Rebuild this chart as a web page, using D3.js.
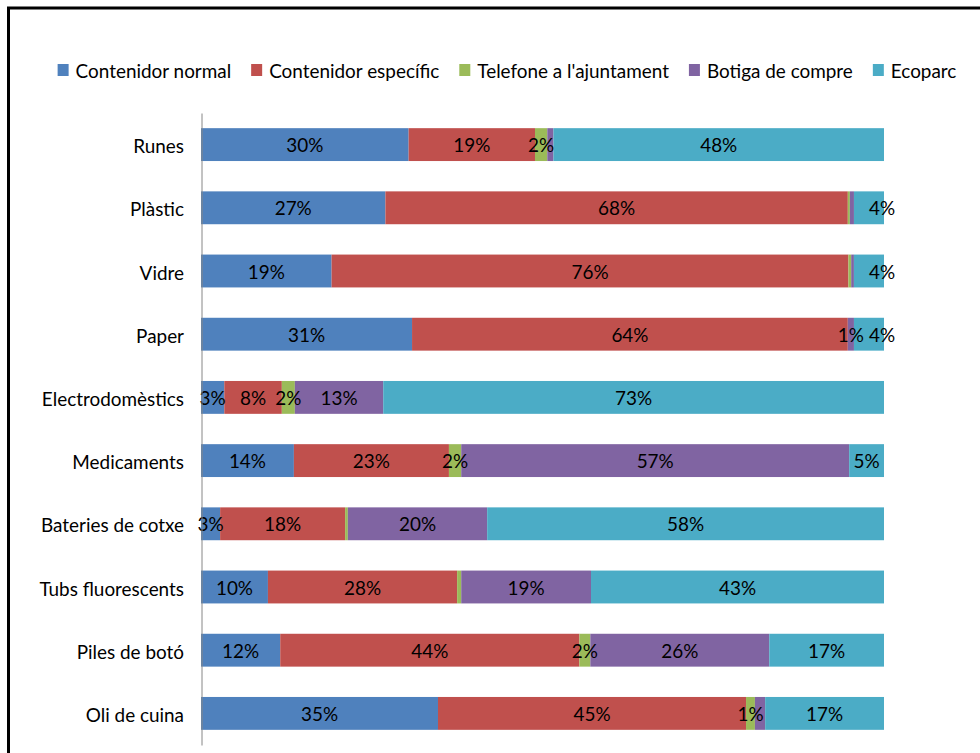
<!DOCTYPE html>
<html>
<head>
<meta charset="utf-8">
<script src="https://cdn.jsdelivr.net/npm/d3@7/dist/d3.min.js"></script>
<style>
  html, body { margin: 0; padding: 0; background: #fff; overflow: hidden; }
  svg { display: block; }
</style>
</head>
<body>
<svg id="chart" width="980" height="753"></svg>
<script>
// ---- Data ----
const categories = ["Runes", "Plàstic", "Vidre", "Paper", "Electrodomèstics",
  "Medicaments", "Bateries de cotxe", "Tubs fluorescents", "Piles de botó", "Oli de cuina"];
const seriesNames = ["Contenidor normal", "Contenidor específic", "Telefone a l'ajuntament",
  "Botiga de compre", "Ecoparc"];
const contenidorNormal    = [30.4, 27.0, 19.1, 30.9, 3.4, 13.6, 2.8, 9.8, 11.6, 34.7];
const contenidorEspecific = [18.5, 67.7, 75.6, 63.8, 8.4, 22.7, 18.3, 27.7, 43.8, 45.1];
const telefoneAjuntament  = [1.8, 0.3, 0.4, 0.0, 1.9, 1.8, 0.4, 0.6, 1.6, 1.3];
const botigaCompre        = [0.9, 0.6, 0.4, 0.9, 12.9, 56.8, 20.4, 19.0, 26.2, 1.5];
const ecoparc             = [48.4, 4.4, 4.4, 4.4, 73.1, 5.1, 58.1, 42.9, 16.8, 17.4];
// labels that are not shown in the reference (category|series)
const hiddenLabels = ["Runes|Botiga de compre", "Plàstic|Telefone a l'ajuntament",
  "Plàstic|Botiga de compre", "Vidre|Telefone a l'ajuntament", "Vidre|Botiga de compre",
  "Paper|Telefone a l'ajuntament", "Bateries de cotxe|Telefone a l'ajuntament",
  "Tubs fluorescents|Telefone a l'ajuntament", "Oli de cuina|Botiga de compre"];

const seriesValues = [contenidorNormal, contenidorEspecific, telefoneAjuntament, botigaCompre, ecoparc];
const colors = ["#4F81BD", "#C0504D", "#9BBB59", "#8064A2", "#4BACC6"];

// ---- Font: Lato, horizontally condensed to mimic the narrow original ----
const fontFamily = "Lato, 'Open Sans', sans-serif";
const fs = 20;
const cvs = document.createElement("canvas").getContext("2d");
cvs.font = fs + "px " + fontFamily;
const k = 156 / cvs.measureText("Contenidor normal").width;

// ---- Layout ----
const svg = d3.select("#chart");
const table = categories.map((c, i) => {
  const o = { category: c };
  seriesNames.forEach((s, j) => o[s] = seriesValues[j][i]);
  return o;
});
const stacked = d3.stack().keys(seriesNames).offset(d3.stackOffsetExpand)(table);

const x = d3.scaleLinear().domain([0, 1]).range([201, 884]);
const y = d3.scaleBand().domain(categories).range([113, 745]).paddingInner(0.48).paddingOuter(0.24);
const baseOff = 7.5; // baseline offset from row centre

// frame
svg.append("rect").attr("x", 8.5).attr("y", 8).attr("width", 1100).attr("height", 900)
  .attr("fill", "none").attr("stroke", "#000").attr("stroke-width", 3);

// bars
const layers = svg.append("g").selectAll("g").data(stacked).join("g")
  .attr("fill", (d, i) => colors[i]);
layers.selectAll("rect").data(d => d).join("rect")
  .attr("x", d => x(d[0]))
  .attr("width", d => x(d[1]) - x(d[0]))
  .attr("y", d => y(d.data.category))
  .attr("height", y.bandwidth());

// value labels
const labelG = svg.append("g").attr("font-family", fontFamily).attr("font-size", fs).attr("fill", "#000")
  .attr("text-anchor", "middle");
stacked.forEach((layer, si) => {
  layer.forEach(d => {
    const cat = d.data.category, s = seriesNames[si];
    if (hiddenLabels.includes(cat + "|" + s)) return;
    const v = d.data[s];
    const x0 = x(d[0]), x1 = x(d[1]);
    let cx = (x0 + x1) / 2;
    if (si === seriesNames.length - 1 && x1 - x0 < 32) cx = x1 - 2;
    labelG.append("text")
      .attr("transform", `translate(${cx},${y(cat) + y.bandwidth() / 2 + baseOff}) scale(${k},1)`)
      .text(Math.round(v) + "%");
  });
});

// category axis
const axis = svg.append("g").attr("transform", "translate(201.5,0)")
  .call(d3.axisLeft(y).tickSize(0).tickPadding(17));
axis.select(".domain").attr("stroke", "#868686").attr("stroke-width", 1);
axis.selectAll(".tick text").attr("font-family", fontFamily).attr("font-size", fs)
  .attr("fill", "#000").attr("dy", null).attr("x", 0).attr("y", 0)
  .attr("transform", `translate(-17.5,${baseOff + 1}) scale(${k},1)`);

// legend
const legend = svg.append("g").attr("font-family", fontFamily).attr("font-size", fs);
let lx = 0;
seriesNames.forEach((s, i) => {
  const g = legend.append("g").attr("transform", `translate(${lx},0)`);
  g.append("rect").attr("x", 0).attr("y", 64).attr("width", 11).attr("height", 12).attr("fill", colors[i]);
  const t = g.append("text").attr("transform", `translate(18,78) scale(${k},1)`).attr("fill", "#000").text(s);
  const w = t.node().getComputedTextLength() * k;
  lx += 18 + w + 20;
});
const totalW = lx - 20;
legend.attr("transform", `translate(${507 - totalW / 2},0)`);
</script>
</body>
</html>
